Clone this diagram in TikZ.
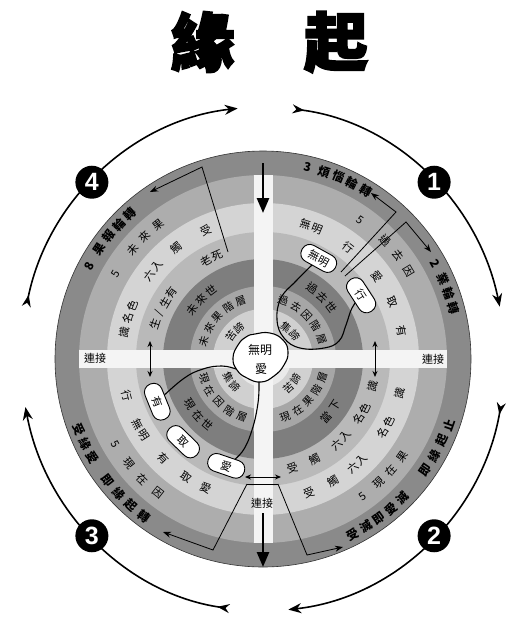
\documentclass[tikz,border=0pt]{standalone}
\usepackage{fontspec}
\newfontfamily\cjk{Noto Sans CJK TC}
\newfontfamily\cjktitle[FakeBold=3]{Noto Sans CJK TC}
\newfontfamily\numfont{Liberation Sans}
\usetikzlibrary{arrows.meta}
\pgfdeclarelayer{bg}
\pgfdeclarelayer{mid}
\pgfsetlayers{bg,mid,main}
\definecolor{c1}{HTML}{8A8A8A}
\definecolor{c2}{HTML}{ADADAD}
\definecolor{c3}{HTML}{D4D4D4}
\definecolor{c4}{HTML}{B9B9B9}
\definecolor{c5}{HTML}{7E7E7E}
\definecolor{c6}{HTML}{A6A6A6}
\definecolor{c7}{HTML}{D0D0D0}
\definecolor{c8}{HTML}{EAEAEA}
\definecolor{bandc}{HTML}{F4F4F4}
\newcounter{tn}
\tikzset{
  rt/.style={font=\cjk\fontsize{11}{11}\selectfont, inner sep=0pt, text=black},
  st/.style={font=\cjk\fontsize{10.5}{10.5}\selectfont, inner sep=0pt, text=black},
  ot/.style={font=\cjk\bfseries\fontsize{12}{12}\selectfont, inner sep=0pt, text=black},
  pill/.style={draw=black, line width=0.9pt, fill=white, rectangle, rounded corners=8.5pt,
    minimum width=38pt, minimum height=18pt, inner sep=1pt, font=\cjk\fontsize{11}{11}\selectfont},
  numc/.style={circle, fill=black, text=white, minimum size=33pt, inner sep=0pt,
    font=\numfont\bfseries\fontsize{25}{25}\selectfont},
  bigarc/.style={line width=1.6pt, black, {Stealth[reversed,length=12pt,width=9pt]}-{Stealth[length=13pt,width=10pt]}},
  thinarrow/.style={line width=0.8pt, -{Stealth[length=8pt,width=6pt]}},
  dblarrow/.style={line width=0.9pt, {Stealth[length=6pt,width=5pt]}-{Stealth[length=6pt,width=5pt]}},
  bigdown/.style={line width=2.6pt, -{Triangle[length=15pt,width=12pt]}},
  blobline/.style={line width=1.1pt, black},
  lab/.style={font=\cjk\fontsize{11}{11}\selectfont, inner sep=0pt},
  titlech/.style={font=\cjktitle\bfseries\fontsize{64}{64}\selectfont, inner sep=0pt}
}
\newcommand\toptxt[5][rt]{\foreach \rtc [count=\rti from 0] in {#5}{\pgfmathsetmacro\rta{#3-\rti*#4}\stepcounter{tn}\node[#1, rotate=\rta-90] (t\arabic{tn}) at (\rta:#2) {\rtc};}}
\newcommand\bottxt[5][rt]{\foreach \rtc [count=\rti from 0] in {#5}{\pgfmathsetmacro\rta{#3+\rti*#4}\stepcounter{tn}\node[#1, rotate=\rta+90] (t\arabic{tn}) at (\rta:#2) {\rtc};}}
\begin{document}
\begin{tikzpicture}[x=1pt,y=-1pt]
\useasboundingbox (0,0) rectangle (526,619);
\begin{pgfonlayer}{bg}
\fill[white] (0,0) rectangle (526,619);
\end{pgfonlayer}
% title
\node[titlech] (t1) at (203,42) {緣};
\node[titlech] (t2) at (336,42) {起};

\begin{scope}[shift={(263,359)}, yscale=-1]
\begin{pgfonlayer}{bg}
  \fill[c1] (0,0) circle (208);
  \fill[c2] (0,0) circle (184);
  \fill[c3] (0,0) circle (156);
  \fill[c4] (0,0) circle (127);
  \fill[c5] (0,0) circle (100);
  \fill[c6] (0,0) circle (73);
  \fill[c7] (0,0) circle (50);
  \fill[c8] (0,0) circle (28);
  \draw[gray!40!black, line width=0.6pt] (0,0) circle (208);
  \fill[bandc] (-184,-9) rectangle (184,9);
  \fill[bandc] (-9.5,-184) rectangle (9.5,184);
\end{pgfonlayer}

% outer ring texts
\toptxt[ot]{197}{152}{0}{8}
\toptxt[ot]{197}{146}{4.5}{果,報,輪,轉}
\toptxt[ot]{197}{77}{0}{3}
\toptxt[ot]{197}{72}{4.5}{煩,惱,輪,轉}
\toptxt[ot]{197}{29}{0}{2}
\toptxt[ot]{197}{24}{4.5}{業,輪,轉}
\bottxt[ot]{197}{201}{4.5}{受,緣,愛}
\bottxt[ot]{197}{218}{5}{即,緣,起,轉}
\bottxt[ot]{197}{-63}{4.5}{受,滅,即,愛,滅}
\bottxt[ot]{197}{-34.5}{5}{即,緣,起,止}
% ring 2
\toptxt{170}{150}{0}{5}
\toptxt{170}{140}{6}{未,來,果}
\toptxt{170}{55}{0}{5}
\toptxt{170}{44}{6.5}{過,去,因}
\bottxt{170}{210}{0}{5}
\bottxt{170}{218}{7}{現,在,因}
\bottxt{170}{-54}{0}{5}
\bottxt{170}{-47}{6}{現,在,果}
% ring 3
\toptxt{141}{169}{0}{識}
\toptxt{141}{163}{5}{名,色}
\toptxt{141}{143.5}{5}{六,入}
\toptxt{141}{128}{0}{觸}
\toptxt{141}{114}{0}{受}
\toptxt{141}{72.5}{5}{無,明}
\toptxt{141}{52.5}{0}{行}
\toptxt{141}{36}{0}{愛}
\toptxt{141}{24}{0}{取}
\toptxt{141}{11.5}{0}{有}
\bottxt{141}{195}{0}{行}
\bottxt{141}{207.5}{5}{無,明}
\bottxt{141}{225}{0}{有}
\bottxt{141}{237}{0}{取}
\bottxt{141}{246}{0}{愛}
\bottxt{141}{-71}{0}{受}
\bottxt{141}{-60}{0}{觸}
\bottxt{141}{-50.5}{5}{六,入}
\bottxt{141}{-31.5}{5}{名,色}
\bottxt{141}{-14}{0}{識}
% ring 4
\toptxt{113}{162}{6}{生,/,生,有}
\toptxt{113}{120}{6}{老,死}
\bottxt{113}{-75}{0}{受}
\bottxt{113}{-63}{0}{觸}
\bottxt{113}{-49}{6}{六,入}
\bottxt{113}{-32}{6}{名,色}
\bottxt{113}{-14}{0}{識}
% ring 5
\toptxt{86}{145}{9}{未,來,世}
\toptxt{86}{55}{9}{過,去,世}
\bottxt{86}{212}{9}{現,在,世}
\bottxt{86}{-43}{10}{當,下}
% ring 6
\toptxt[st]{62}{163}{13}{未,來,果,階,層}
\toptxt[st]{62}{71}{13}{過,去,因,階,層}
\bottxt[st]{62}{198}{13}{現,在,因,階,層}
\bottxt[st]{62}{-69}{13}{現,在,果,階,層}
% ring 7
\toptxt[st]{39}{144.5}{17}{苦,諦}
\toptxt[st]{39}{53.5}{17}{集,諦}
\bottxt[st]{39}{207.5}{17}{集,諦}
\bottxt[st]{39}{-48.5}{17}{苦,諦}

% pills
\node[pill, rotate=-29] (pwm) at (61:115) {無明};
\node[pill, rotate=-57] (pxing) at (33:117) {行};
\node[pill, rotate=-68] (pyou) at (202:114) {有};
\node[pill, rotate=-44] (pqu) at (226:115) {取};
\node[pill, rotate=-19] (pai) at (251:113) {愛};

% big vertical arrows
\coordinate (topA) at (0,196);
\coordinate (topB) at (0,146);
\coordinate (botA) at (0,-154);
\coordinate (botB) at (0,-208);
\draw[bigdown] (topA) -- (topB);
\draw[bigdown] (botA) -- (botB);

% outer cycle
\node[numc] (n1) at ({242*cos(45)},{250*sin(45)}) {1};
\node[numc] (n2) at ({242*cos(-45)},{250*sin(-45)}) {2};
\node[numc] (n3) at ({242*cos(-135)},{250*sin(-135)}) {3};
\node[numc] (n4) at ({242*cos(135)},{250*sin(135)}) {4};
\begin{pgfonlayer}{mid}
\draw[bigarc] ({242*cos(83)},{252*sin(83)}) arc[start angle=83, end angle=12, x radius=242, y radius=252];
\draw[bigarc] ({242*cos(-10)},{252*sin(-10)}) arc[start angle=-10, end angle=-84, x radius=242, y radius=252];
\draw[bigarc] ({242*cos(-98)},{252*sin(-98)}) arc[start angle=-98, end angle=-169, x radius=242, y radius=252];
\draw[bigarc] ({242*cos(168)},{252*sin(168)}) arc[start angle=168, end angle=96, x radius=242, y radius=252];
\end{pgfonlayer}
\end{scope}

% band labels
\node[lab] (lL) at (95,358) {連接};
\node[lab] (lR) at (433,359) {連接};
\node[lab] (lB) at (262,503) {連接};
\coordinate (dl1) at (150,341); \coordinate (dl2) at (150,377);
\coordinate (dr1) at (375,341); \coordinate (dr2) at (375,377);
\coordinate (db1) at (245,477); \coordinate (db2) at (281,477);
\draw[dblarrow] (dl1) -- (dl2);
\draw[dblarrow] (dr1) -- (dr2);
\draw[dblarrow] (db1) -- (db2);

% center blob texts
\node[font=\cjk\fontsize{12}{12}\selectfont, inner sep=0pt] (cw) at (260,350) {無明};
\node[font=\cjk\fontsize{12}{12}\selectfont, inner sep=0pt] (ca) at (261,369) {愛};

\begin{pgfonlayer}{mid}
\draw[blobline, fill=white] plot[smooth cycle, tension=0.8] coordinates {(255,334) (270,333) (283,340) (288,352) (284,365) (274,376) (261,382) (247,378) (237,370) (233,358) (238,345) (246,337)};
% Q1 loop
\draw[blobline] plot[smooth, tension=0.7] coordinates {(pwm.center) (296,281) (281,298) (277,320) (284,338) (300,348) (324,348) (339,341) (346,325) (352,308) (pxing.center)};
% Q3 curves
\draw[blobline] plot[smooth, tension=0.7] coordinates {(pyou.center) (183,379) (203,369) (222,366) (236,369)};
\draw[blobline] plot[smooth, tension=0.7] coordinates {(259,382) (258,403) (252,430) (242,452) (pai.center)};
% Q1 arrows
\coordinate (a1) at (341,272); \coordinate (a2) at (396,212); \coordinate (a3) at (371,193);
\coordinate (b1) at (345,276); \coordinate (b2) at (406,222); \coordinate (b3) at (431,252);
\draw[thinarrow] (a1) -- (a2) -- (a3);
\draw[thinarrow] (b1) -- (b2) -- (b3);
% Q2 arrow
\coordinate (c1p) at (228,252); \coordinate (c2p) at (202,167); \coordinate (c3p) at (150,192);
\draw[thinarrow] (c1p) -- (c2p) -- (c3p);
% bottom trapezoid arrows
\coordinate (d1) at (247,484); \coordinate (d2) at (213,550); \coordinate (d3) at (163,532);
\coordinate (e1) at (278,484); \coordinate (e2) at (307,555); \coordinate (e3) at (343,547);
\draw[line width=0.8pt] (d1) -- (e1);
\draw[thinarrow] (d1) -- (d2) -- (d3);
\draw[thinarrow] (e1) -- (e2) -- (e3);
\end{pgfonlayer}
\end{tikzpicture}
\end{document}
